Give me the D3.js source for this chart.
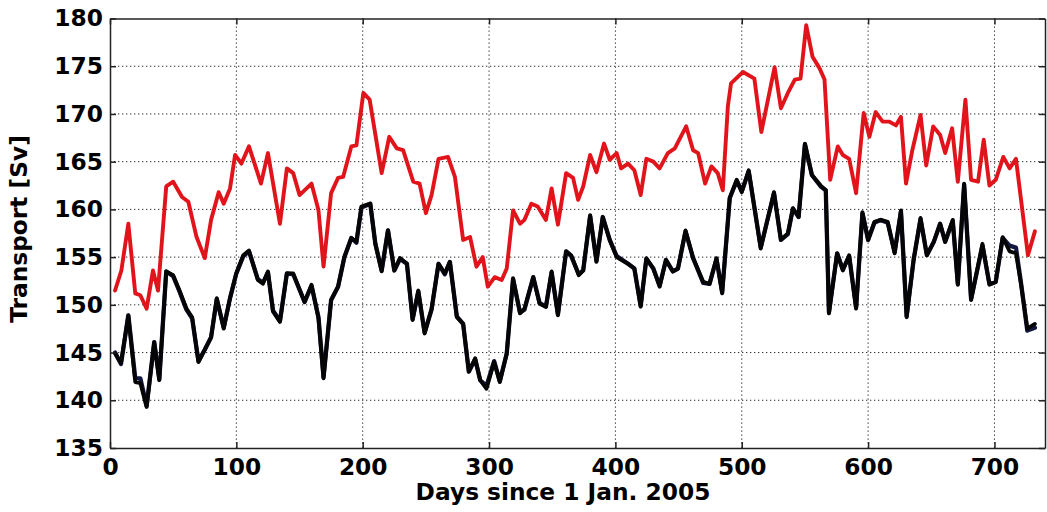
<!DOCTYPE html>
<html>
<head>
<meta charset="utf-8">
<script src="https://cdn.jsdelivr.net/npm/d3@7"></script>
<style>
  html, body { margin: 0; padding: 0; background: #fff; }
  svg { display: block; }
  text { font-family: "DejaVu Sans", sans-serif; font-weight: bold; fill: #000; }
</style>
</head>
<body>
<svg id="chart" width="1047" height="512"></svg>
<script>
// Daily transport time series (Sv), days counted from 1 Jan. 2005
const redDays = [4,9,14.5,20,24,29,34,38,44.5,50,57,62,68.5,75,80,86,90,95,99,104,110,119.5,125,134.5,140,145,150,159.5,165,169,175,180.5,184.5,191,195,200.5,205.5,215,221,227,232,240,245,250,254.5,260,267.5,273,279.5,285,290,295,299,304.5,310,314,319,324.5,328,333.5,338.5,345,349.5,354.5,361,366.5,370.5,374.5,380,385,391,395.5,401,404.5,410,415,420,424.5,430,435,441.5,447,456,461.5,465.5,471,476,481,485,489,491.5,501,510,515.5,526,531,536.5,542,546.5,551,556,561.5,565.5,570,576,580,585,590.5,596.5,601,606,611.5,616.5,622,626,630,635,641.5,646,651.5,657,661,666.5,671,677,681.5,687,691.5,696,701,707,712,717,726.5,732];
const redValues = [151.5,153.6,158.5,151.2,151.0,149.6,153.6,151.5,162.4,162.9,161.3,160.8,157.1,154.9,158.9,161.8,160.6,162.2,165.7,164.8,166.6,162.7,165.9,158.5,164.3,163.8,161.5,162.7,159.9,154.0,161.7,163.3,163.4,166.6,166.7,172.2,171.5,163.8,167.6,166.4,166.2,162.9,162.7,159.6,161.5,165.3,165.5,163.4,156.8,157.1,154.0,155.0,151.9,152.9,152.6,153.8,159.9,158.5,158.9,160.6,160.3,158.9,162.2,158.4,163.8,163.3,161.0,162.4,165.7,163.9,166.9,165.2,165.9,164.3,164.8,164.1,161.5,165.3,165.0,164.3,165.9,166.4,168.7,166.2,165.9,162.7,164.5,163.8,162.0,170.8,173.2,174.4,173.7,168.1,174.9,170.6,172.2,173.6,173.7,179.3,176.0,174.8,173.6,163.1,166.6,165.7,165.3,161.7,170.1,167.6,170.2,169.2,169.2,168.8,169.7,162.7,166.2,169.9,164.6,168.7,167.8,165.9,168.5,162.9,171.5,163.1,162.9,167.3,162.5,163.1,165.5,164.3,165.3,155.2,157.7];

const darkDays = [4,8.7,14.5,20,24,29,35,39,44.5,50,55,60.5,65,70,75,80,84.5,90,95,100,105.5,110,117,121,125,129,134.5,140,145,154,159.5,165,169,175,180.5,185.5,191,195,199,206,210,215,220,225,229.5,235,239.5,244,249,254.5,260,265,269,274.5,279.5,284,289,293,298,304,308.5,314,319,324.5,328,335,340,345,349.5,354.5,361,365,371,374.5,380,385,390,395.5,401,410,415,420,424.5,430,435,440,445.5,449.5,455.5,461.5,469.5,474.5,480,484.5,490.5,496,500,505.5,515,525.5,531,536.5,540.5,545,550,555.5,562.5,566.5,569,575.5,580,585,590.5,595.5,600,605,610,615.5,621,626,630.5,636,641.5,646.5,652,657,661,667,671,676,681.5,690.5,696,701,706.5,712,717,721,726,732];
const blackValues = [144.9,143.9,148.9,141.9,141.8,139.3,146.1,142.1,153.5,153.1,151.5,149.6,148.7,144.0,145.3,146.6,150.7,147.5,150.7,153.3,155.2,155.7,152.6,152.2,153.5,149.3,148.2,153.3,153.3,150.3,152.1,148.6,142.3,150.5,151.9,155.0,157.0,156.6,160.3,160.6,156.4,153.5,157.8,153.6,154.9,154.3,148.4,151.5,147.0,149.6,154.3,153.3,154.5,148.7,148.0,143.0,144.4,142.1,141.2,144.0,141.9,144.9,152.8,149.1,149.6,152.9,150.1,149.8,153.5,148.9,155.6,155.2,153.1,153.6,159.4,154.5,159.2,156.8,155.0,154.3,153.8,149.8,154.9,153.8,151.9,154.7,153.5,153.8,157.8,154.9,152.4,152.2,154.9,151.2,161.2,163.1,161.8,164.1,155.9,161.8,156.8,157.5,160.1,159.2,166.9,163.6,162.5,162.0,149.1,155.4,153.6,155.2,149.6,159.7,156.8,158.7,158.9,158.7,155.4,159.9,148.7,154.7,159.1,155.2,156.6,158.5,156.6,158.9,152.1,162.7,150.5,156.4,152.1,152.4,157.1,155.6,155.4,152.2,147.5,148.0];
const navyValues = [145.0,143.8,148.9,142.3,142.3,139.4,146.1,142.2,153.5,153.0,151.4,149.5,148.6,144.1,145.3,146.6,150.6,147.6,150.7,153.3,155.1,155.6,152.7,152.3,153.4,149.4,148.3,153.3,153.2,150.3,152.0,148.7,142.4,150.5,151.9,155.0,157.0,156.5,160.2,160.6,156.4,153.6,157.8,153.6,154.8,154.3,148.5,151.4,147.1,149.5,154.3,153.2,154.5,148.8,148.0,143.0,144.3,142.1,141.5,144.1,142.0,144.9,152.7,149.2,149.5,152.9,150.2,149.8,153.4,149.0,155.6,155.1,153.2,153.6,159.3,154.6,159.2,156.8,155.1,154.3,153.8,149.9,154.8,153.8,152.0,154.7,153.5,153.8,157.7,154.9,152.3,152.2,154.8,151.3,161.2,163.0,161.9,164.0,156.0,161.7,156.8,157.4,160.1,159.2,166.8,163.6,162.4,162.0,149.2,155.4,153.7,155.1,149.7,159.6,156.8,158.6,158.9,158.6,155.5,159.8,148.8,154.7,159.0,155.2,156.6,158.5,156.6,158.8,152.2,162.6,150.6,156.2,152.2,152.4,157.0,156.2,156.0,152.3,147.3,147.6];

const xTicks = [0, 100, 200, 300, 400, 500, 600, 700];
const yTicks = [135, 140, 145, 150, 155, 160, 165, 170, 175, 180];
const xLabel = "Days since 1 Jan. 2005";
const yLabel = "Transport [Sv]";

const svg = d3.select("#chart");
const plotLeft = 110, plotRight = 1045, plotTop = 18.5, plotBottom = 448;

const x = d3.scaleLinear().domain([0, 740]).range([plotLeft, plotRight]);
const y = d3.scaleLinear().domain([135, 180]).range([plotBottom, plotTop]);

// dotted grid
const grid = svg.append("g").attr("stroke", "#2a2a2a").attr("stroke-width", 1)
  .attr("stroke-dasharray", "1.3,2.7");
grid.selectAll("line.gx").data(xTicks.filter(d => d > 0)).join("line")
  .attr("class", "gx")
  .attr("x1", d => x(d)).attr("x2", d => x(d)).attr("y1", plotTop).attr("y2", plotBottom);
grid.selectAll("line.gy").data(yTicks.filter(d => d > 135 && d < 180)).join("line")
  .attr("class", "gy")
  .attr("x1", plotLeft).attr("x2", plotRight).attr("y1", d => y(d)).attr("y2", d => y(d));

// series
const series = [
  { days: redDays, values: redValues, color: "#e2141b", width: 3.9 },
  { days: darkDays, values: navyValues, color: "#14173f", width: 4.3 },
  { days: darkDays, values: blackValues, color: "#050505", width: 3.8 }
];
const line = d3.line().x(d => x(d[0])).y(d => y(d[1]));
svg.append("g").selectAll("path").data(series).join("path")
  .attr("d", s => line(s.days.map((d, i) => [d, s.values[i]])))
  .attr("fill", "none")
  .attr("stroke", s => s.color)
  .attr("stroke-width", s => s.width)
  .attr("stroke-linejoin", "round")
  .attr("stroke-linecap", "round");

// axes with inward ticks
const fontSize = 23.3;
const styleAxis = g => {
  g.select(".domain").attr("stroke", "#222").attr("stroke-width", 1.5);
  g.selectAll(".tick line").attr("stroke", "#222").attr("stroke-width", 1.5);
  g.selectAll("text").attr("font-size", fontSize)
    .attr("font-family", '"DejaVu Sans", sans-serif')
    .attr("font-weight", "bold")
    .attr("fill", "#000");
};
svg.append("g").attr("transform", `translate(0,${plotBottom})`)
  .call(d3.axisBottom(x).tickValues(xTicks).tickSizeInner(-6).tickSizeOuter(0).tickPadding(9))
  .call(styleAxis)
  .call(g => g.selectAll("text").attr("dy", "0.78em"));
svg.append("g").attr("transform", `translate(0,${plotTop})`)
  .call(d3.axisTop(x).tickValues(xTicks).tickSizeInner(-6).tickSizeOuter(0).tickFormat(""))
  .call(styleAxis);
svg.append("g").attr("transform", `translate(${plotLeft},0)`)
  .call(d3.axisLeft(y).tickValues(yTicks).tickSizeInner(-6).tickSizeOuter(0).tickPadding(7))
  .call(styleAxis);
svg.append("g").attr("transform", `translate(${plotRight},0)`)
  .call(d3.axisRight(y).tickValues(yTicks).tickSizeInner(-6).tickSizeOuter(0).tickFormat(""))
  .call(styleAxis);

// axis titles
svg.append("text").attr("x", 563).attr("y", 500)
  .attr("text-anchor", "middle").attr("font-size", fontSize)
  .text(xLabel);
svg.append("text").attr("transform", "translate(27,229) rotate(-90)")
  .attr("text-anchor", "middle").attr("font-size", fontSize)
  .text(yLabel);
</script>
</body>
</html>
